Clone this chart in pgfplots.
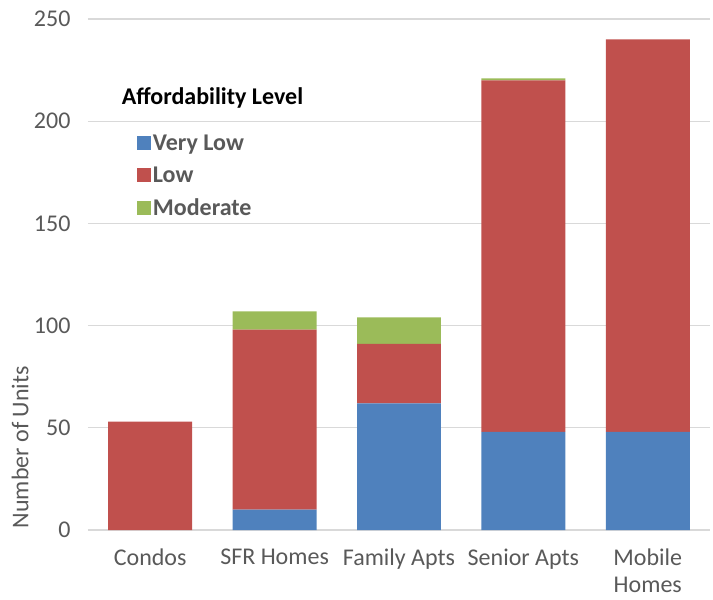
\documentclass[border=0pt]{standalone}
\usepackage{pgfplots}
\pgfplotsset{compat=1.18}
\usepackage{fontspec}
\setmainfont{Carlito}

\definecolor{vlow}{HTML}{4F81BD}
\definecolor{low}{HTML}{C0504D}
\definecolor{mod}{HTML}{9BBB59}
\definecolor{gridc}{HTML}{D9D9D9}
\definecolor{txt}{HTML}{595959}

\newcommand{\chartfont}{\fontsize{24}{29}\selectfont}

\begin{document}
\begin{tikzpicture}
\begin{axis}[
    scale only axis,
    width=622pt, height=511pt,
    ybar stacked,
    bar width=0.675,
    xmin=-0.5, xmax=4.5,
    ymin=0, ymax=250,
    xtick=data,
    xticklabels={Condos, SFR Homes, Family Apts, Senior Apts, Mobile\\Homes},
    ytick={0,50,100,150,200,250},
    ymajorgrids,
    grid style={gridc, line width=1.2pt},
    axis line style={draw=none},
    major tick length=0pt,
    tick label style={font=\chartfont, text=txt},
    /pgf/number format/assume math mode=true,
    xticklabel style={align=center, inner sep=0pt, yshift=-19pt,
        font=\fontsize{24}{27}\selectfont},
    yticklabel style={xshift=-14pt},
    ylabel={Number of Units},
    ylabel style={font=\chartfont, text=txt, at={(axis description cs:-0.109,0.162)}, anchor=center},
    legend style={draw=none, fill=none, font=\chartfont\bfseries, text=txt,
        at={(axis description cs:0.0735,0.782)}, anchor=north west,
        row sep=11pt, nodes={inner sep=2pt},
        /tikz/every even column/.append style={column sep=7pt}},
    legend cell align=left,
    legend image code/.code={\fill[#1] (0pt,-7pt) rectangle (14pt,7pt);},
    every axis plot/.append style={draw=none},
]
\addplot[fill=vlow] coordinates {(0,0) (1,10) (2,62) (3,48) (4,48)};
\addplot[fill=low] coordinates {(0,53) (1,88) (2,29) (3,172) (4,192)};
\addplot[fill=mod] coordinates {(0,0) (1,9) (2,13) (3,1) (4,0)};
\legend{Very Low, Low, Moderate}
\node[anchor=base west, font=\chartfont\bfseries, text=black, inner sep=0pt]
    at (rel axis cs:0.054,0.833) {Affordability Level};
\end{axis}
\pgfresetboundingbox
\path[use as bounding box] (-88pt,-70pt) rectangle (625pt,530pt);
\end{tikzpicture}
\end{document}
